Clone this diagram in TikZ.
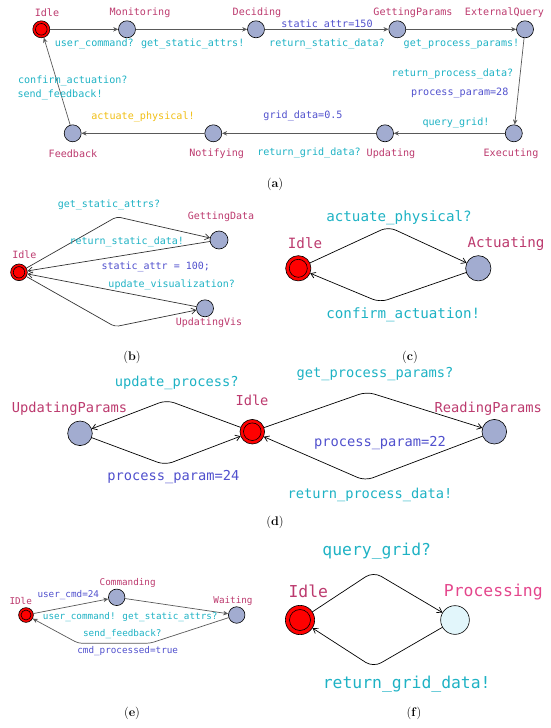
\documentclass[tikz,border=0pt]{standalone}
\usepackage{fontspec}
\newfontfamily\uppfont{DejaVu Sans Mono}
\usetikzlibrary{arrows.meta}
\definecolor{locname}{RGB}{188,58,110}
\definecolor{procname}{RGB}{228,70,140}
\definecolor{synccol}{RGB}{30,178,196}
\definecolor{updcol}{RGB}{80,80,205}
\definecolor{guardcol}{RGB}{240,190,20}
\definecolor{locfill}{RGB}{162,172,208}
\definecolor{procfill}{RGB}{226,246,251}
\begin{document}
\begin{tikzpicture}[x=1pt,y=-1pt,line cap=round,line join=round,
  loc/.style={circle,draw,line width=0.6pt,fill=locfill,inner sep=0pt,minimum size=#1},
  loc/.default=17pt,
  start/.style 2 args={loc=#1,fill=red,
    path picture={\draw[line width=0.6pt] (path picture bounding box.center) circle[radius=#2];}},
  nm/.style={text=locname,inner sep=0pt},
  sync/.style={text=synccol,inner sep=0pt},
  upd/.style={text=updcol,inner sep=0pt},
  edge/.style={draw,line width=0.7pt,-{Straight Barb[length=4.5pt,width=6pt]}},
  edgeg/.style={draw=black!65,line width=0.7pt,-{Stealth[length=5pt,width=4.5pt]}},
  captxt/.style={inner sep=0pt,font=\fontsize{12.5}{15}\selectfont}]
\useasboundingbox (0,0) rectangle (550,728);

% (a)
\begin{scope}[every node/.append style={font=\uppfont\fontsize{10.1}{12}\selectfont}]
  \node[start={17pt}{5.8pt}] (aIdle) at (41.3,29.3) {};
  \node[loc] (aMon) at (127,29.3) {};
  \node[loc] (aDec) at (256,29.3) {};
  \node[loc] (aGet) at (397.3,29.3) {};
  \node[loc] (aExt) at (525,29.3) {};
  \node[loc] (aExe) at (513.8,133.3) {};
  \node[loc] (aUpd) at (385,133.3) {};
  \node[loc] (aNot) at (213.3,133.3) {};
  \node[loc] (aFbk) at (72.7,133.3) {};
  \node[nm] (aIdleT) at (47,12.7) {Idle};
  \node[nm] (aMonT) at (140,12.7) {Monitoring};
  \node[nm] (aDecT) at (257,12.7) {Deciding};
  \node[nm] (aGetT) at (413,12.7) {GettingParams};
  \node[nm] (aExtT) at (504.5,12.7) {ExternalQuery};
  \node[nm] (aExeT) at (511,153.3) {Executing};
  \node[nm] (aUpdT) at (391,153.3) {Updating};
  \node[nm] (aNotT) at (216.7,153.3) {Notifying};
  \node[nm] (aFbkT) at (73,153.3) {Feedback};
  \draw[edgeg] (aIdle) -- (aMon);
  \draw[edgeg] (aMon) -- (aDec);
  \draw[edgeg] (aDec) -- (aGet);
  \draw[edgeg] (aGet) -- (aExt);
  \draw[edgeg] (aExt) -- (aExe);
  \draw[edgeg] (aExe) -- (aUpd);
  \draw[edgeg] (aUpd) -- (aNot);
  \draw[edgeg] (aNot) -- (aFbk);
  \draw[edgeg] (aFbk) -- (aIdle);
  \node[sync] (aL1) at (94.3,44) {user\_command?};
  \node[sync] (aL2) at (192.7,44) {get\_static\_attrs!};
  \node[upd] (aL3) at (327,25) {static\_attr=150};
  \node[sync] (aL4) at (327,44) {return\_static\_data?};
  \node[sync] (aL5) at (461.5,44) {get\_process\_params!};
  \node[sync] (aL6) at (452.5,74) {return\_process\_data?};
  \node[upd] (aL7) at (459.7,93.3) {process\_param=28};
  \node[sync] (aL8) at (456,123.3) {query\_grid!};
  \node[upd] (aL9) at (303,116) {grid\_data=0.5};
  \node[sync] (aL10) at (309,153.3) {return\_grid\_data?};
  \node[text=guardcol,inner sep=0pt] (aL11) at (143,116.7) {actuate\_physical!};
  \node[sync] (aL12) at (72.8,80.7) {confirm\_actuation?};
  \node[sync,anchor=west] (aL13) at (17.3,95) {send\_feedback!};
\end{scope}
\node[captxt] (capA) at (275,184) {(\textbf{a})};

% (b)
\begin{scope}[every node/.append style={font=\uppfont\fontsize{10}{12}\selectfont}]
  \node[start={16.7pt}{5.7pt}] (bIdle) at (19,272.3) {};
  \node[loc=18pt] (bGet) at (219,240) {};
  \node[loc=17pt] (bUpd) at (205,308.3) {};
  \node[nm] (bIdleT) at (24.3,255) {Idle};
  \node[nm] (bGetT) at (221,217) {GettingData};
  \node[nm] (bUpdT) at (209,322.3) {UpdatingVis};
  \coordinate (bn1) at (116.7,216.7);
  \coordinate (bn2) at (115,326.7);
  \draw[edge,draw=black!80,rounded corners=4pt] (bIdle) -- (bn1) -- (bGet);
  \draw[edge,draw=black!80] (bGet) -- (bIdle);
  \draw[edge,draw=black!80] (bUpd) -- (bIdle);
  \draw[edge,draw=black!80,rounded corners=4pt] (bIdle) -- (bn2) -- (bUpd);
  \node[sync] (bL1) at (109,205) {get\_static\_attrs?};
  \node[sync] (bL2) at (126.7,242.3) {return\_static\_data!};
  \node[upd] (bL3) at (155.7,266.7) {static\_attr = 100;};
  \node[sync] (bL4) at (171.7,285) {update\_visualization?};
\end{scope}
\node[captxt] (capB) at (132,357) {(\textbf{b})};

% (c)
\begin{scope}[every node/.append style={font=\uppfont\fontsize{14.2}{16}\selectfont}]
  \node[start={25.3pt}{9pt}] (cIdle) at (298.3,268.3) {};
  \node[loc=25.3pt] (cAct) at (478.3,268.3) {};
  \node[nm] (cIdleT) at (305,243.3) {Idle};
  \node[nm] (cActT) at (506,243.3) {Actuating};
  \coordinate (cn1) at (388.3,226.7);
  \coordinate (cn2) at (380,302.3);
  \draw[edge,rounded corners=8pt] (cIdle) -- (cn1) -- (cAct);
  \draw[edge,rounded corners=8pt] (cAct) -- (cn2) -- (cIdle);
  \node[sync] (cL1) at (399,217.3) {actuate\_physical?};
  \node[sync] (cL2) at (403.3,315) {confirm\_actuation!};
\end{scope}
\node[captxt] (capC) at (410,357) {(\textbf{c})};

% (d)
\begin{scope}[every node/.append style={font=\uppfont\fontsize{13.7}{16}\selectfont}]
  \node[start={24.6pt}{8.8pt}] (dIdle) at (252.3,431.7) {};
  \node[loc=24.6pt] (dUpd) at (80,433.3) {};
  \node[loc=24.6pt] (dRead) at (494.3,431.7) {};
  \node[nm] (dUpdT) at (69.5,408.3) {UpdatingParams};
  \node[nm] (dIdleT) at (252,400) {Idle};
  \node[nm] (dReadT) at (488.3,408.3) {ReadingParams};
  \coordinate (dn1) at (166.7,400);
  \coordinate (dn2) at (165,465);
  \coordinate (dn3) at (366.7,391.7);
  \coordinate (dn4) at (365,480.7);
  \draw[edge,rounded corners=8pt] (dIdle) -- (dn1) -- (dUpd);
  \draw[edge,rounded corners=8pt] (dUpd) -- (dn2) -- (dIdle);
  \draw[edge,rounded corners=8pt] (dIdle) -- (dn3) -- (dRead);
  \draw[edge,rounded corners=8pt] (dRead) -- (dn4) -- (dIdle);
  \node[sync] (dL1) at (176.7,382.7) {update\_process?};
  \node[upd] (dL2) at (173.3,477.3) {process\_param=24};
  \node[sync] (dL3) at (375,374) {get\_process\_params?};
  \node[upd] (dL4) at (380,442.7) {process\_param=22};
  \node[sync] (dL5) at (370,495) {return\_process\_data!};
\end{scope}
\node[captxt] (capD) at (275,522) {(\textbf{d})};

% (e)
\begin{scope}[every node/.append style={font=\uppfont\fontsize{9.3}{11}\selectfont}]
  \node[start={14.7pt}{5pt}] (eIdle) at (26,615) {};
  \node[loc=16.5pt] (eCmd) at (116.7,597.3) {};
  \node[loc=16.5pt] (eWait) at (236.7,615) {};
  \node[nm] (eIdleT) at (20.7,600.7) {IDle};
  \node[nm] (eCmdT) at (127.7,583.3) {Commanding};
  \node[nm] (eWaitT) at (233,600.7) {Waiting};
  \coordinate (en1) at (150,643.3);
  \coordinate (en2) at (78.3,643.3);
  \draw[edgeg] (eIdle) -- (eCmd);
  \draw[edgeg] (eCmd) -- (eWait);
  \draw[edgeg,rounded corners=4pt] (eWait) -- (en1) -- (en2) -- (eIdle);
  \node[upd] (eL1) at (68.3,595) {user\_cmd=24};
  \node[sync] (eL2) at (79.3,617.3) {user\_command!};
  \node[sync] (eL3) at (170,617.3) {get\_static\_attrs?};
  \node[sync] (eL4) at (122.3,634) {send\_feedback?};
  \node[upd] (eL5) at (127.7,651) {cmd\_processed=true};
\end{scope}
\node[captxt] (capE) at (132,713) {(\textbf{e})};

% (f)
\begin{scope}[every node/.append style={font=\uppfont\fontsize{16.4}{19}\selectfont}]
  \node[start={29.3pt}{10.5pt}] (fIdle) at (300,620) {};
  \node[loc=28.7pt,fill=procfill] (fProc) at (455,620) {};
  \node[nm] (fIdleT) at (308.3,591.7) {Idle};
  \node[text=procname,inner sep=0pt] (fProcT) at (493.3,591.7) {Processing};
  \coordinate (fn1) at (373.3,571.7);
  \coordinate (fn2) at (373.3,667.3);
  \draw[edge,rounded corners=9pt] (fIdle) -- (fn1) -- (fProc);
  \draw[edge,rounded corners=9pt] (fProc) -- (fn2) -- (fIdle);
  \node[sync] (fL1) at (376.7,551) {query\_grid?};
  \node[sync] (fL2) at (406.7,684) {return\_grid\_data!};
\end{scope}
\node[captxt] (capF) at (414,713) {(\textbf{f})};
\end{tikzpicture}
\end{document}
